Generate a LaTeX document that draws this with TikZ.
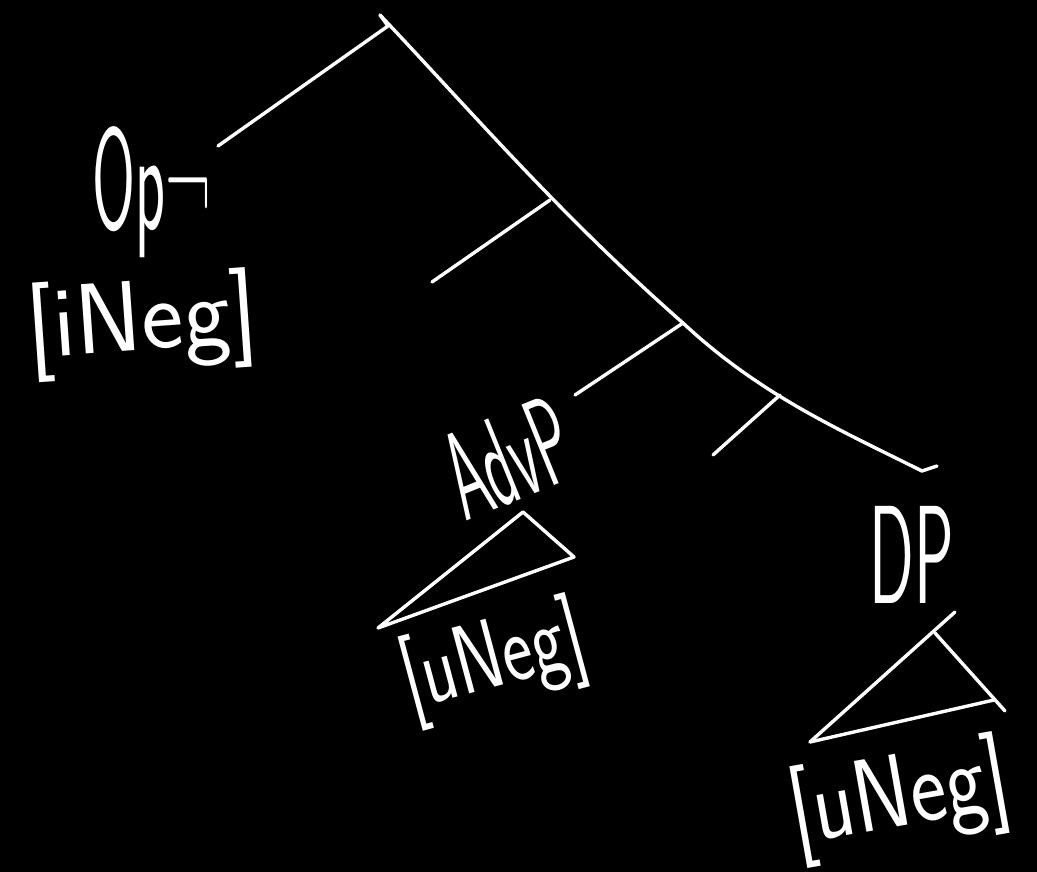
\documentclass[tikz,border=0pt]{standalone}
\usepackage{graphicx}
\begin{document}
\begin{tikzpicture}[x=1pt,y=-1pt,
  chalk/.style={draw=white, line width=3.4pt, line cap=round, line join=round},
  lbl/.style={text=white, inner sep=0pt, font=\sffamily\fontsize{100}{100}\selectfont}]
\fill[black] (0,0) rectangle (1037,872);
\useasboundingbox (0,0) rectangle (1037,872);

% labels
\node[lbl] (op) at (152,192) {\scalebox{0.62}[1.45]{Op¬}};
\node[lbl, rotate=4] (opf) at (142,325) {[iNeg]};
\node[lbl, rotate=22] (adv) at (508,458) {\scalebox{0.6}[1.25]{AdvP}};
\node[lbl, rotate=15, font=\sffamily\fontsize{85}{85}\selectfont] (advf) at (494,662) {\scalebox{0.85}[1.15]{[uNeg]}};
\node[lbl] (dp) at (912,555) {\scalebox{0.66}[1.4]{DP}};
\node[lbl, rotate=10, font=\sffamily\fontsize{90}{90}\selectfont] (dpf) at (900,800) {\scalebox{0.95}[1.15]{[uNeg]}};

% tree coordinates
\coordinate (top) at (380,15);
\coordinate (lb) at (218,146);
\coordinate (s1) at (550,200);
\coordinate (s2) at (683,323);
\coordinate (s3) at (780,395);
\coordinate (b1) at (432,282);
\coordinate (b2) at (575,395);
\coordinate (b3) at (713,455);

% spine
\draw[chalk] (top) .. controls (470,110) and (560,215) .. (s2)
             .. controls (760,395) and (840,430) .. (922,471) -- (937,466);
% left branch
\draw[chalk] (top) -- (388,26) -- (lb);
% side branches
\draw[chalk] (s1) -- (b1);
\draw[chalk] (s2) -- (b2);
\draw[chalk] (s3) -- (b3);

% AdvP triangle
\coordinate (ta) at (523,512);
\coordinate (tr) at (574,557);
\coordinate (tl) at (378,628);
\draw[chalk] (tl) -- (ta) -- (tr) -- cycle;

% DP triangle
\coordinate (da) at (935,633);
\coordinate (dt) at (955,612);
\coordinate (dr) at (1005,711);
\coordinate (dl) at (810,742);
\draw[chalk] (dl) -- (dt);
\draw[chalk] (da) -- (dr);
\draw[chalk] (dl) -- (994,700);
\end{tikzpicture}
\end{document}
